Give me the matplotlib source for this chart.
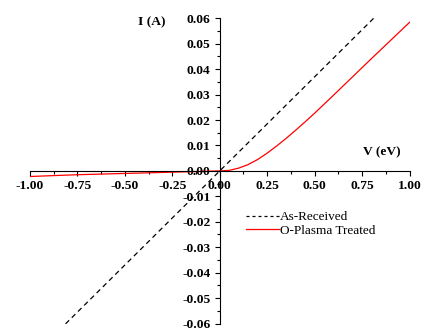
import matplotlib
matplotlib.use("Agg")
import matplotlib.pyplot as plt
from matplotlib.lines import Line2D
from matplotlib.ticker import FixedLocator, MultipleLocator

# As-Received: linear I-V
v_received = [-1.0, -0.5, 0.0, 0.5, 1.0]
i_received = [-0.074, -0.037, 0.0, 0.037, 0.074]

# O-Plasma Treated: rectifying I-V
v_plasma = [-1.0, -0.75, -0.5, -0.25, 0.0, 0.05, 0.1, 0.15, 0.2, 0.25,
            0.3, 0.35, 0.4, 0.45, 0.5, 0.6, 0.7, 0.8, 0.9, 1.0]
i_plasma = [-0.0022, -0.0015, -0.001, -0.0005, 0.0, 0.0002, 0.0011, 0.0025,
            0.0045, 0.0070, 0.0098, 0.0128, 0.0160, 0.0193, 0.0227, 0.0298,
            0.0370, 0.0442, 0.0513, 0.0584]

x_ticks = [-1.0, -0.75, -0.5, -0.25, 0.0, 0.25, 0.5, 0.75, 1.0]
y_ticks = [-0.06, -0.05, -0.04, -0.03, -0.02, -0.01, 0.0,
           0.01, 0.02, 0.03, 0.04, 0.05, 0.06]

plt.rcParams['font.family'] = ['Liberation Serif', 'DejaVu Serif']
plt.rcParams['axes.unicode_minus'] = False

fig = plt.figure(figsize=(4.25, 3.29), dpi=100)
ax = fig.add_axes([0.0706, 0.0167, 0.893, 0.9277])

ax.plot(v_received, i_received, color='black', lw=0.9, dashes=(4, 3))
ax.plot(v_plasma, i_plasma, color='red', lw=0.9)

ax.set_xlim(-1, 1)
ax.set_ylim(-0.06, 0.06)

for side in ['top', 'right']:
    ax.spines[side].set_visible(False)
ax.spines['left'].set_position(('data', 0))
ax.spines['bottom'].set_position(('data', 0))
ax.spines['left'].set_linewidth(0.8)
ax.spines['bottom'].set_linewidth(0.8)

ax.xaxis.set_major_locator(FixedLocator(x_ticks))
ax.xaxis.set_minor_locator(MultipleLocator(0.125))
ax.yaxis.set_major_locator(FixedLocator(y_ticks))
ax.yaxis.set_minor_locator(MultipleLocator(0.005))
ax.set_xticklabels(["%.2f" % t for t in x_ticks])
ax.set_yticklabels(["%.2f" % t for t in y_ticks])

ax.tick_params(which='major', direction='out', length=3.6, width=0.8,
               labelsize=9.7, pad=3)
ax.tick_params(which='minor', direction='out', length=2.2, width=0.8)
for lab in ax.get_xticklabels() + ax.get_yticklabels():
    lab.set_fontweight('bold')

fig.text(0.3576, 0.9331, "I (A)", fontsize=9.7, fontweight='bold',
         ha='center', va='center')
fig.text(0.8988, 0.538, "V (eV)", fontsize=9.7, fontweight='bold',
         ha='center', va='center')

handles = [Line2D([], [], color='black', lw=0.9, dashes=(2.4, 2.4)),
           Line2D([], [], color='red', lw=0.9)]
ax.legend(handles, ["As-Received", "O-Plasma Treated"], frameon=False,
          loc='upper left', bbox_to_anchor=(246 / 425, 1 - 211 / 329),
          bbox_transform=fig.transFigure, borderpad=0, borderaxespad=0,
          handlelength=2.5, handletextpad=0.05, labelspacing=0.1,
          fontsize=9.5)

fig.savefig("out.png", dpi=100)
